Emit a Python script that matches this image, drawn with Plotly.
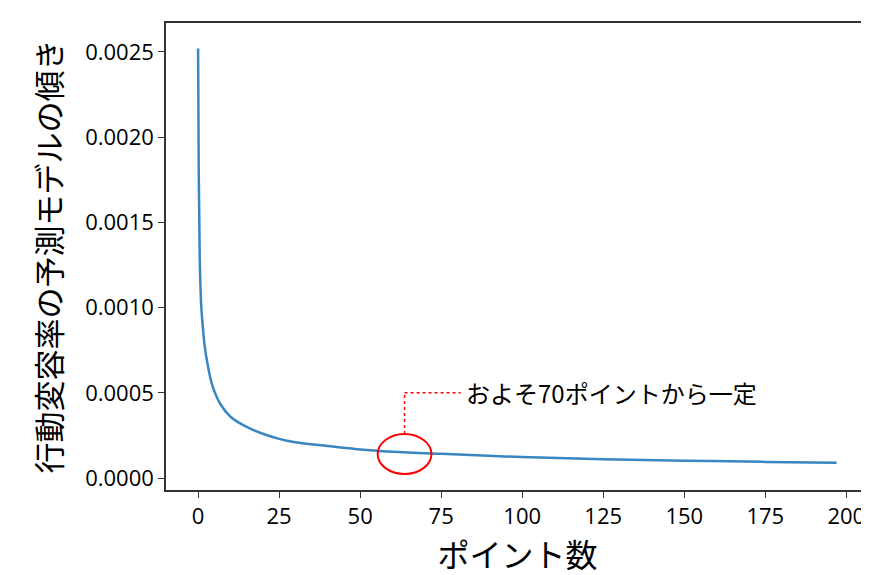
import plotly.graph_objects as go

x_pts = [0, 0.2, 0.5, 1, 1.5, 2, 3, 4, 5, 7, 10, 15, 20, 25, 30, 40, 50, 60, 75, 100, 125, 150, 175, 197]
y_pts = [0.00252, 0.0018, 0.0013, 0.00100, 0.00088, 0.00078, 0.00066, 0.00057, 0.00051, 0.00043, 0.00036, 0.00030, 0.00026, 0.00023, 0.00021, 0.000188, 0.000168, 0.000155, 0.000142, 0.000123, 0.000111, 0.000102, 0.000095, 0.00009]

x_ticks = [0, 25, 50, 75, 100, 125, 150, 175, 200]
y_ticks = [0.0, 0.0005, 0.0010, 0.0015, 0.0020, 0.0025]
y_labels = ["0.0000", "0.0005", "0.0010", "0.0015", "0.0020", "0.0025"]

jp = "Noto Sans CJK JP"
fig = go.Figure(go.Scatter(x=x_pts, y=y_pts, mode="lines", line=dict(color="#3a86c0", width=2.5, shape="spline")))

fig.add_shape(type="circle", xref="x", yref="y", x0=63.7-8.3, x1=63.7+8.3,
              y0=0.000141-0.000117, y1=0.000141+0.000117, line=dict(color="red", width=2))
fig.add_shape(type="line", xref="x", yref="y", x0=63.7, x1=63.7, y0=0.000258, y1=0.00050,
              line=dict(color="red", width=1.5, dash="dot"))
fig.add_shape(type="line", xref="x", yref="y", x0=63.7, x1=81, y0=0.00050, y1=0.00050,
              line=dict(color="red", width=1.5, dash="dot"))
fig.add_annotation(x=82, y=0.00050, xref="x", yref="y", text="およそ70ポイントから一定",
                   showarrow=False, xanchor="left", font=dict(family=jp, size=24, color="black"))

fig.update_layout(
    width=869, height=575, paper_bgcolor="white", plot_bgcolor="white",
    margin=dict(l=158, r=6, t=15, b=93), showlegend=False,
    font=dict(family="Open Sans", size=22, color="black"),
)
fig.update_xaxes(range=[-9.9, 207], tickvals=x_ticks, ticks="outside", ticklen=6, tickcolor="#333",
                 showline=True, mirror=True, linecolor="#333", linewidth=1.5, showgrid=False, zeroline=False,
                 title=dict(text="ポイント数", font=dict(family=jp, size=32), standoff=10))
fig.update_yaxes(range=[-0.00007, 0.00267], tickvals=y_ticks, ticktext=y_labels, ticks="outside", ticklen=6, tickcolor="#333",
                 showline=True, mirror=True, linecolor="#333", linewidth=1.5, showgrid=False, zeroline=False,
                 title=dict(text="行動変容率の予測モデルの傾き", font=dict(family=jp, size=31), standoff=14))
fig.write_html("out.html")
